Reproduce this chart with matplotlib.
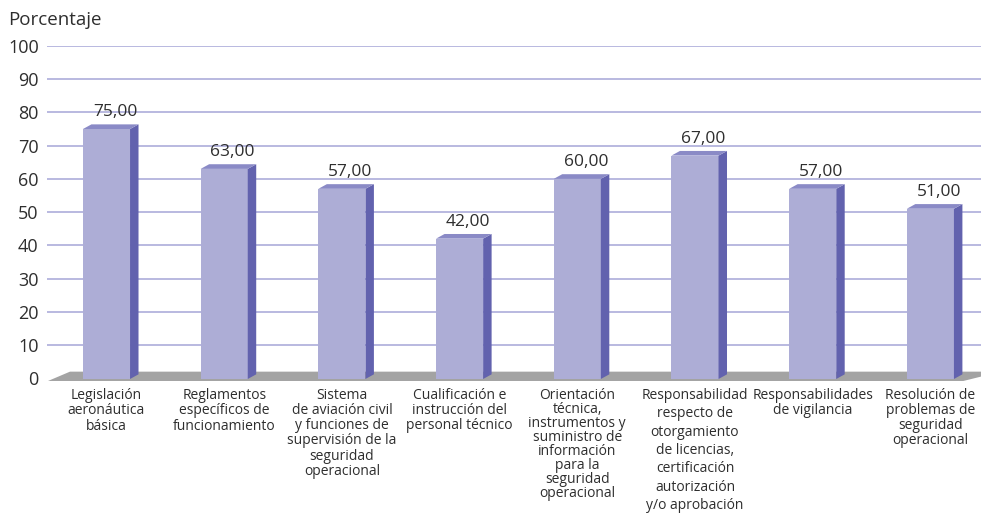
import matplotlib
matplotlib.use("Agg")
import matplotlib.pyplot as plt
from matplotlib.patches import Polygon, Rectangle

plt.rcParams['font.family'] = ['Open Sans', 'DejaVu Sans']

categories = [
    "Legislación\naeronáutica\nbásica",
    "Reglamentos\nespecíficos de\nfuncionamiento",
    "Sistema\nde aviación civil\ny funciones de\nsupervisión de la\nseguridad\noperacional",
    "Cualificación e\ninstrucción del\npersonal técnico",
    "Orientación\ntécnica,\ninstrumentos y\nsuministro de\ninformación\npara la\nseguridad\noperacional",
    "Responsabilidad\nrespecto de\notorgamiento\nde licencias,\ncertificación\nautorización\ny/o aprobación",
    "Responsabilidades\nde vigilancia",
    "Resolución de\nproblemas de\nseguridad\noperacional",
]
values = [75, 63, 57, 42, 60, 67, 57, 51]
yticks = list(range(0, 101, 10))

# per-label line spacing (the source layout is not uniform)
label_spacing = [1.07, 1.04, 1.02, 1.0, 0.91, 1.31, 1.04, 1.0]

front_col = '#ADADD6'
top_col = '#8A8AC6'
side_col = '#6262AE'
grid_col = '#ADADDA'
floor_col = '#A3A3A3'
text_col = '#2e2e2e'

bar_w = 0.40
dx, dy = 0.072, 1.4     # depth offset of the 3D boxes
base = -0.25

fig = plt.figure(figsize=(9.81, 5.16), dpi=100)
ax = fig.add_axes([47 / 981, 0.2607, 934 / 981, 0.9109 - 0.2607])
ax.set_xlim(-0.5055, 7.43)
ax.set_ylim(-1.0, 100)
for s in ax.spines.values():
    s.set_visible(False)

# back wall gridlines
for t in yticks[1:]:
    ax.plot([-0.5055, 7.43], [t, t], color=grid_col, lw=1.2, zorder=1,
            solid_capstyle='butt')

# floor
floor = Polygon([(-0.497, -0.85), (-0.31, 1.96), (7.6, 1.96), (7.28, -0.85)],
                closed=True, facecolor=floor_col, edgecolor='none', zorder=2)
ax.add_patch(floor)

for i, v in enumerate(values):
    x0 = i - bar_w / 2
    x1 = i + bar_w / 2
    ax.add_patch(Rectangle((x0, base), bar_w, v - base, facecolor=front_col,
                           edgecolor='none', zorder=3))
    ax.add_patch(Polygon([(x1, base), (x1 + dx, base + dy), (x1 + dx, v + dy), (x1, v)],
                         closed=True, facecolor=side_col, edgecolor='none', zorder=3))
    ax.add_patch(Polygon([(x0, v), (x1, v), (x1 + dx, v + dy), (x0 + dx, v + dy)],
                         closed=True, facecolor=top_col, edgecolor='none', zorder=3))
    ax.text(i + dx, v + dy + 3.6, f"{v:.2f}".replace('.', ','), ha='center', va='center',
            fontsize=12.5, color=text_col, zorder=4)
    ax.annotate(categories[i], xy=(i, 0), xycoords=('data', 'axes fraction'),
                xytext=(0, -4.5), textcoords='offset points', ha='center', va='top',
                fontsize=10, color=text_col, linespacing=label_spacing[i],
                annotation_clip=False)

ax.set_xticks([])
ax.set_yticks(yticks)
ax.set_yticklabels([str(t) for t in yticks], fontsize=13, color=text_col)
ax.tick_params(axis='y', length=0, pad=6)

fig.text(8 / 981, 1 - 20 / 516, "Porcentaje", fontsize=13.5, color=text_col,
         ha='left', va='center')

fig.savefig('out.png', dpi=100)
